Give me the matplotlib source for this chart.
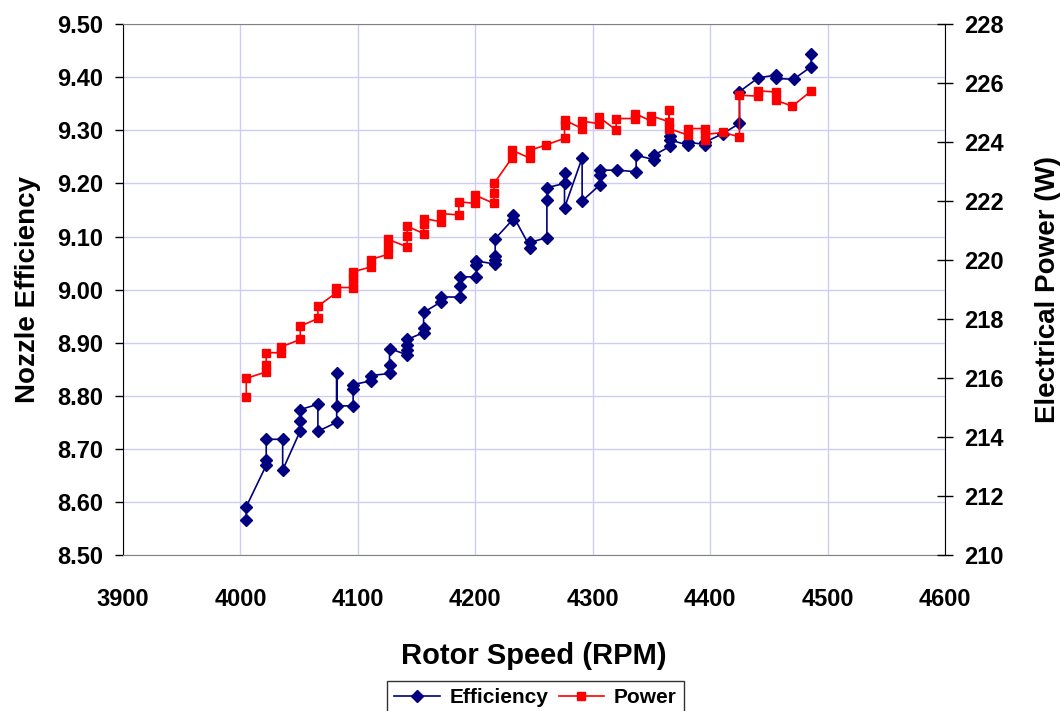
import matplotlib
matplotlib.use("Agg")
import matplotlib.pyplot as plt
from matplotlib.ticker import FixedLocator, FormatStrFormatter

# Rotor speed (RPM) and nozzle efficiency, in test order
rpm_eff = [4005, 4005, 4022, 4022, 4022, 4036, 4036, 4051, 4051, 4051,
           4066, 4066, 4082, 4082, 4082, 4096, 4096, 4096, 4111, 4111,
           4127, 4127, 4127, 4142, 4142, 4142, 4142, 4156, 4156, 4156,
           4171, 4171, 4187, 4187, 4187, 4201, 4201, 4201, 4217, 4217,
           4217, 4217, 4232, 4232, 4247, 4247, 4261, 4261, 4261, 4276,
           4276, 4276, 4291, 4291, 4306, 4306, 4306, 4321, 4337, 4337,
           4352, 4352, 4366, 4366, 4366, 4381, 4381, 4396, 4396, 4411,
           4425, 4425, 4441, 4456, 4456, 4471, 4486, 4486]
efficiency = [8.566, 8.591, 8.669, 8.679, 8.718, 8.718, 8.660, 8.734, 8.752, 8.774,
              8.784, 8.733, 8.750, 8.843, 8.781, 8.781, 8.812, 8.821, 8.828, 8.838,
              8.842, 8.858, 8.889, 8.877, 8.886, 8.895, 8.906, 8.919, 8.927, 8.957,
              8.977, 8.986, 8.986, 9.007, 9.024, 9.024, 9.047, 9.054, 9.048, 9.056,
              9.064, 9.096, 9.132, 9.140, 9.079, 9.089, 9.098, 9.169, 9.192, 9.200,
              9.219, 9.154, 9.248, 9.167, 9.197, 9.216, 9.225, 9.225, 9.222, 9.253,
              9.245, 9.253, 9.270, 9.290, 9.282, 9.272, 9.278, 9.273, 9.278, 9.294,
              9.313, 9.373, 9.399, 9.404, 9.398, 9.396, 9.420, 9.443]

# Rotor speed (RPM) and electrical power (W), in test order
rpm_pow = [4005, 4005, 4022, 4022, 4022, 4035, 4035, 4051, 4051, 4066,
           4066, 4081, 4081, 4096, 4096, 4096, 4111, 4111, 4126, 4126,
           4126, 4142, 4142, 4142, 4156, 4156, 4156, 4171, 4171, 4186,
           4186, 4200, 4200, 4216, 4216, 4216, 4231, 4231, 4247, 4247,
           4260, 4276, 4276, 4276, 4291, 4291, 4305, 4305, 4320, 4320,
           4336, 4336, 4350, 4350, 4365, 4365, 4365, 4381, 4381, 4396,
           4396, 4396, 4411, 4425, 4425, 4441, 4441, 4456, 4456, 4470,
           4486]
power = [215.37, 215.99, 216.21, 216.44, 216.86, 216.86, 217.06, 217.31, 217.76, 218.02,
         218.44, 218.87, 219.07, 219.07, 219.35, 219.60, 219.77, 220.02, 220.20, 220.45,
         220.70, 220.45, 220.81, 221.15, 220.90, 221.24, 221.41, 221.30, 221.58, 221.53,
         221.98, 221.92, 222.20, 221.92, 222.26, 222.60, 223.45, 223.73, 223.45, 223.73,
         223.90, 224.13, 224.58, 224.75, 224.46, 224.71, 224.63, 224.86, 224.41, 224.80,
         224.80, 224.97, 224.71, 224.89, 224.69, 225.08, 224.46, 224.24, 224.46, 224.46,
         224.07, 224.26, 224.33, 224.18, 225.59, 225.56, 225.74, 225.70, 225.42, 225.22,
         225.73]

x_ticks = [3900, 4000, 4100, 4200, 4300, 4400, 4500, 4600]
eff_ticks = [8.50, 8.60, 8.70, 8.80, 8.90, 9.00, 9.10, 9.20, 9.30, 9.40, 9.50]
pow_ticks = [210, 212, 214, 216, 218, 220, 222, 224, 226, 228]

BLUE = "#000080"
RED = "#FF0000"
GRID = "#CCCCF5"

plt.rcParams["font.family"] = ["Liberation Sans", "DejaVu Sans"]
plt.rcParams["font.weight"] = "bold"

fig = plt.figure(figsize=(10.6, 7.11), dpi=100)
ax = fig.add_axes([0.116, 0.2194, 0.7755, 0.7466])
ax2 = ax.twinx()

ax.set_xlim(x_ticks[0], x_ticks[-1])
ax.set_ylim(eff_ticks[0], eff_ticks[-1])
ax2.set_ylim(pow_ticks[0], pow_ticks[-1])

ax.xaxis.set_major_locator(FixedLocator(x_ticks))
ax.yaxis.set_major_locator(FixedLocator(eff_ticks))
ax2.yaxis.set_major_locator(FixedLocator(pow_ticks))
ax.yaxis.set_major_formatter(FormatStrFormatter("%.2f"))

ax.grid(True, color=GRID, linewidth=1.0)
ax.set_axisbelow(True)

l1, = ax.plot(rpm_eff, efficiency, color=BLUE, linewidth=1.2, marker="D",
              markersize=5.8, markerfacecolor=BLUE, markeredgecolor=BLUE,
              label="Efficiency", zorder=3)
l2, = ax2.plot(rpm_pow, power, color=RED, linewidth=1.2, marker="s",
               markersize=6.2, markerfacecolor=RED, markeredgecolor=RED,
               label="Power", zorder=3)

for s in ("top", "bottom"):
    ax.spines[s].set_color("#808080")
    ax2.spines[s].set_visible(False)
ax.spines["left"].set_color("black")
ax.spines["right"].set_visible(False)
ax2.spines["left"].set_visible(False)
ax2.spines["right"].set_color("black")

ax.tick_params(axis="x", length=0, pad=24)
ax.tick_params(axis="y", direction="out", length=6, width=1, pad=8)
ax2.tick_params(axis="y", direction="inout", length=12, width=1, pad=8)

for lab in ax.get_yticklabels() + ax2.get_yticklabels():
    lab.set_fontsize(17)
    lab.set_fontweight("bold")
for lab in ax.get_xticklabels():
    lab.set_fontsize(17)
    lab.set_fontweight("bold")

ax.set_xlabel("Rotor Speed (RPM)", fontsize=21, fontweight="bold", labelpad=22)
ax.set_ylabel("Nozzle Efficiency", fontsize=20, fontweight="bold", labelpad=12)
ax2.set_ylabel("Electrical Power (W)", fontsize=20, fontweight="bold",
               labelpad=22)

leg = fig.legend([l1, l2], ["Efficiency", "Power"], loc="upper center",
                 bbox_to_anchor=(0.505, 0.042), ncol=2, frameon=True,
                 fancybox=False, edgecolor="black", borderaxespad=0.0,
                 handlelength=2.2, columnspacing=0.5, handletextpad=0.45,
                 borderpad=0.35, prop={"weight": "bold", "size": 15})
leg.get_frame().set_linewidth(1.0)

fig.savefig("out.png", dpi=100)
